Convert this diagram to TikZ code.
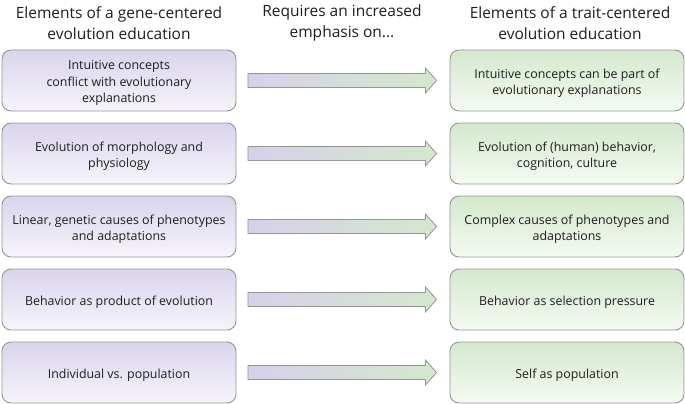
\documentclass[tikz,border=0pt]{standalone}
\usepackage{fontspec}
\setmainfont{Open Sans}
\usetikzlibrary{calc}
\definecolor{txt}{RGB}{30,30,30}
\definecolor{bordergray}{RGB}{150,150,150}
\definecolor{lavtop}{RGB}{218,212,236}
\definecolor{lavbot}{RGB}{246,244,251}
\definecolor{grntop}{RGB}{212,232,205}
\definecolor{grnbot}{RGB}{245,250,243}
\definecolor{arrL}{RGB}{214,208,234}
\definecolor{arrR}{RGB}{212,232,204}
\tikzset{
  header/.style={align=center, text=txt, font=\fontsize{15.5}{20.5}\selectfont, inner sep=0pt},
  boxtext/.style={align=center, text=txt, font=\fontsize{12.4}{16.5}\selectfont, inner sep=0pt, yshift=-2.5pt},
  genebox/.style={draw=bordergray, line width=0.9pt, rounded corners=9pt, minimum width=234pt, minimum height=61pt,
    top color=lavtop, bottom color=lavbot, inner sep=0pt},
  traitbox/.style={genebox, top color=grntop, bottom color=grnbot},
  bigarrow/.style={draw=bordergray, line width=0.8pt, left color=arrL, right color=arrR}
}
\begin{document}
\begin{tikzpicture}[x=1pt,y=-1pt]
\useasboundingbox (0,0) rectangle (685,404);
\node[header] (h1) at (119,23) {Elements of a gene-centered\\evolution education};
\node[header] (h2) at (342,23) {Requires an increased\\emphasis on...};
\node[header] (h3) at (570,23) {Elements of a trait-centered\\evolution education};

\node[genebox, label={[boxtext, name=L1t]center:{Intuitive concepts\\conflict with evolutionary\\explanations}}] (L1) at (119,80.5) {};
\node[genebox, label={[boxtext, name=L2t]center:{Evolution of morphology and\\physiology}}] (L2) at (119,153.5) {};
\node[genebox, label={[boxtext, name=L3t]center:{Linear, genetic causes of phenotypes\\and adaptations}}] (L3) at (119,226.5) {};
\node[genebox, label={[boxtext, name=L4t]center:{Behavior as product of evolution}}] (L4) at (119,299.5) {};
\node[genebox, label={[boxtext, name=L5t]center:{Individual vs. population}}] (L5) at (119,372.5) {};

\node[traitbox, label={[boxtext, name=R1t]center:{Intuitive concepts can be part of\\evolutionary explanations}}] (R1) at (567,80.5) {};
\node[traitbox, label={[boxtext, name=R2t]center:{Evolution of (human) behavior,\\cognition, culture}}] (R2) at (567,153.5) {};
\node[traitbox, label={[boxtext, name=R3t]center:{Complex causes of phenotypes and\\adaptations}}] (R3) at (567,226.5) {};
\node[traitbox, label={[boxtext, name=R4t]center:{Behavior as selection pressure}}] (R4) at (567,299.5) {};
\node[traitbox, label={[boxtext, name=R5t]center:{Self as population}}] (R5) at (567,372.5) {};

\foreach \i in {1,...,5}{
  \path[bigarrow] ($(L\i.east)+(11.5,-7)$) -- ($(L\i.east)+(189,-7)$) -- ($(L\i.east)+(189,-12.5)$)
    -- ($(R\i.west)+(-13,0)$) -- ($(L\i.east)+(189,12.5)$) -- ($(L\i.east)+(189,7)$)
    -- ($(L\i.east)+(11.5,7)$) -- cycle;
}
\end{tikzpicture}
\end{document}
